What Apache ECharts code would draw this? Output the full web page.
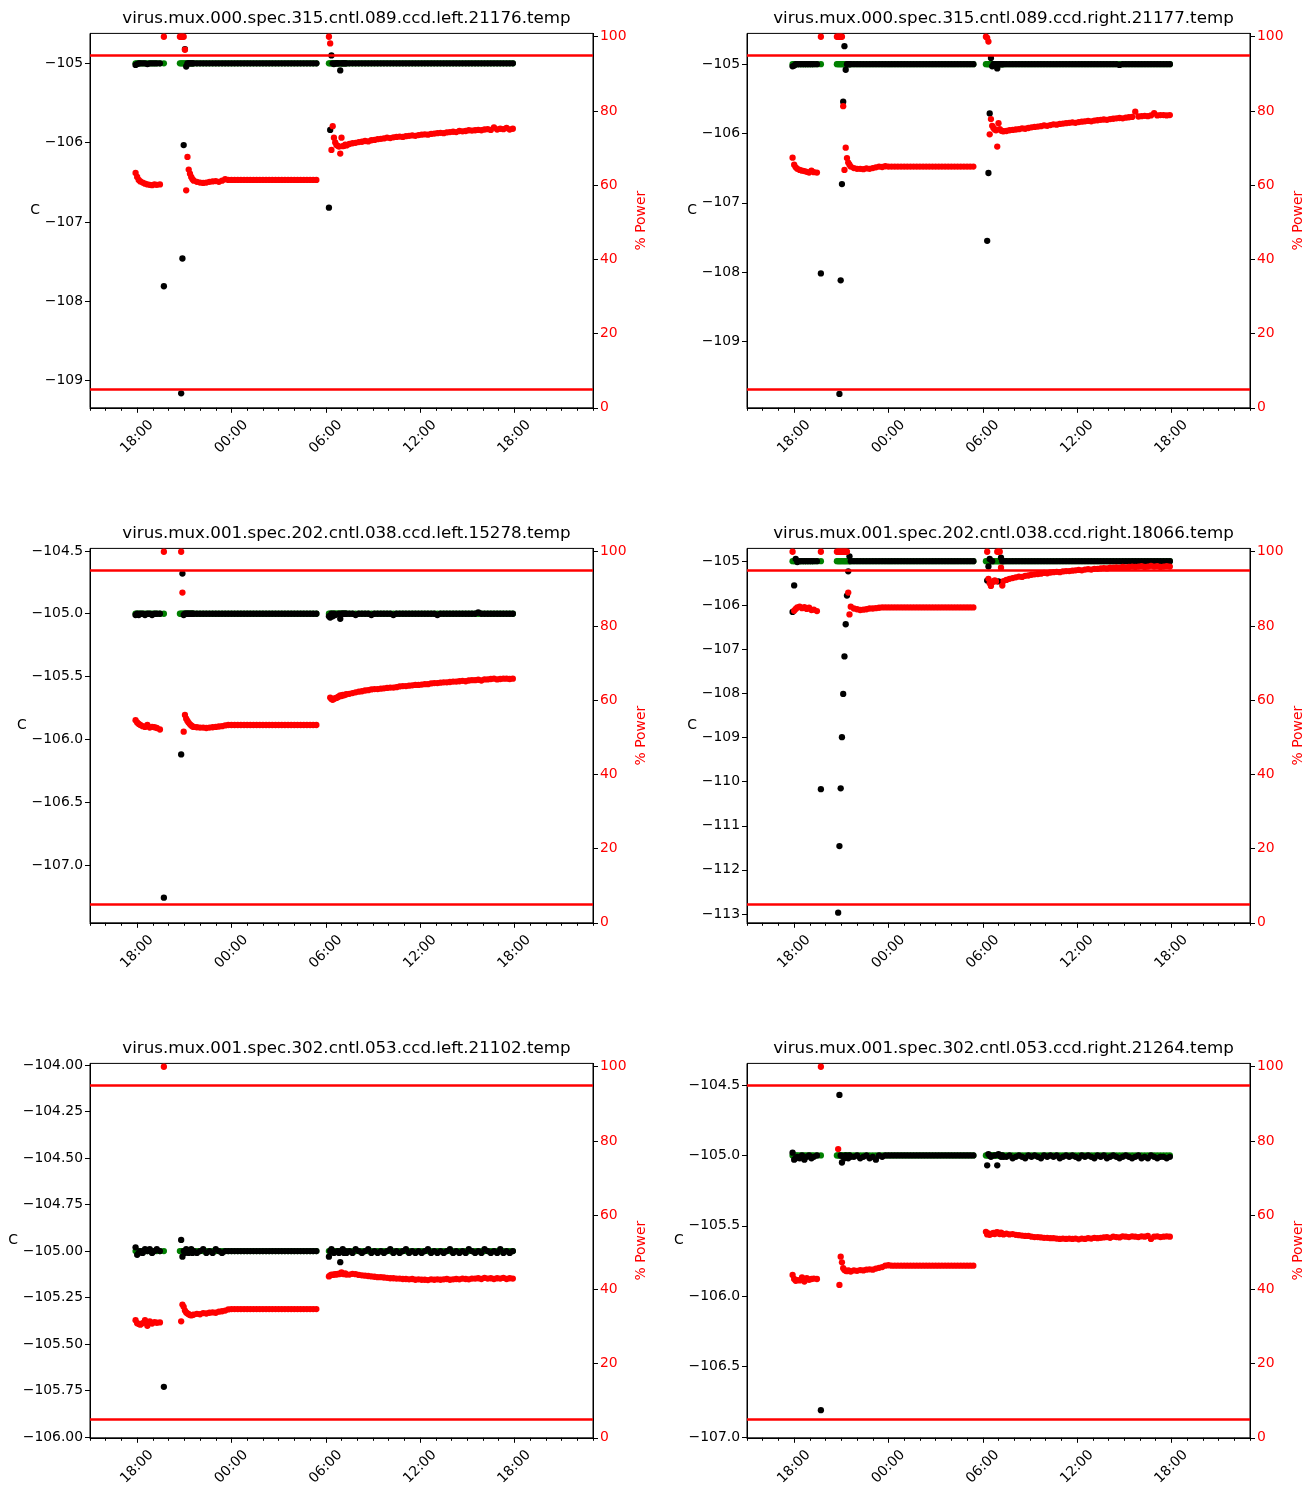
<!DOCTYPE html>
<html><head><meta charset="utf-8">
<script src="https://cdn.jsdelivr.net/npm/echarts@6/dist/echarts.min.js"></script>
<style>html,body{margin:0;padding:0;background:#fff}#c{width:1313px;height:1490px}</style>
</head><body><div id="c"></div><script>
// sample times, hours since 00:00 of day 1 (24 = 00:00 next day)
const hours = [
17.9,18.0,18.1,18.2,18.35,18.5,18.65,18.8,18.95,19.1,19.25,19.45,19.7,
20.72,20.8,20.88,20.96,21.04,21.12,21.2,21.28,21.36,21.44,21.52,21.6,
21.8,22.0,22.2,22.4,22.6,22.8,23.0,23.2,23.4,23.6,
23.8,24.0,24.2,24.4,24.6,24.8,25.0,25.2,25.4,25.6,
25.8,26.0,26.2,26.4,26.6,26.8,27.0,27.2,27.4,27.6,
27.8,28.0,28.2,28.4,28.6,28.8,29.0,29.2,29.4,
30.2,30.28,30.36,30.44,30.52,30.6,30.68,30.76,30.84,30.92,31.0,31.08,31.16,31.24,31.32,
31.5,31.7,31.9,32.1,32.3,32.5,32.7,32.9,33.1,33.3,
33.5,33.7,33.9,34.1,34.3,34.5,34.7,34.9,35.1,35.3,
35.5,35.7,35.9,36.1,36.3,36.5,36.7,36.9,37.1,37.3,
37.5,37.7,37.9,38.1,38.3,38.5,38.7,38.9,39.1,39.3,
39.5,39.7,39.9,40.1,40.3,40.5,40.7,40.9,41.1,41.3,
41.5,41.7,41.9
];

// green: temperature set point
const setpoint = [
-105,-105,-105,-105,-105,-105,-105,-105,-105,-105,-105,-105,-105,
-105,-105,-105,-105,-105,-105,-105,-105,-105,-105,-105,-105,
-105,-105,-105,-105,-105,-105,-105,-105,-105,-105,
-105,-105,-105,-105,-105,-105,-105,-105,-105,-105,
-105,-105,-105,-105,-105,-105,-105,-105,-105,-105,
-105,-105,-105,-105,-105,-105,-105,-105,-105,
-105,-105,-105,-105,-105,-105,-105,-105,-105,-105,-105,-105,-105,-105,-105,
-105,-105,-105,-105,-105,-105,-105,-105,-105,-105,
-105,-105,-105,-105,-105,-105,-105,-105,-105,-105,
-105,-105,-105,-105,-105,-105,-105,-105,-105,-105,
-105,-105,-105,-105,-105,-105,-105,-105,-105,-105,
-105,-105,-105,-105,-105,-105,-105,-105,-105,-105,
-105,-105,-105
];

// ---- panel 1: spec.315 left ----
const temp1 = [
-105.02,-105.01,-105,-105,-105,-105,-105.01,-105,-105,-105,-105,-105,-107.81,
null,-109.16,-107.46,-106.03,-104.82,-105.04,-105,-105,-105,-105,-105,-105,
-105,-105,-105,-105,-105,-105,-105,-105,-105,-105,
-105,-105,-105,-105,-105,-105,-105,-105,-105,-105,
-105,-105,-105,-105,-105,-105,-105,-105,-105,-105,
-105,-105,-105,-105,-105,-105,-105,-105,-105,
-106.82,-105.84,-104.9,-105,-105.01,-105,-105,-105,-105,-105.09,-105,-105,-105,-105,-105,
-105,-105,-105,-105,-105,-105,-105,-105,-105,-105,
-105,-105,-105,-105,-105,-105,-105,-105,-105,-105,
-105,-105,-105,-105,-105,-105,-105,-105,-105,-105,
-105,-105,-105,-105,-105,-105,-105,-105,-105,-105,
-105,-105,-105,-105,-105,-105,-105,-105,-105,-105,
-105,-105,-105
];
const power1 = [
63.3,62.2,61.4,61.0,60.7,60.4,60.2,60.1,60.0,60.2,60.1,60.2,100,
100,100,100,100,96.5,58.6,67.6,64.2,63.1,62.2,61.6,61.2,
60.9,60.7,60.6,60.7,60.9,61.0,61.1,60.9,61.2,61.6,
61.4,61.4,61.4,61.4,61.4,61.4,61.4,61.4,61.4,61.4,
61.4,61.4,61.4,61.4,61.4,61.4,61.4,61.4,61.4,61.4,
61.4,61.4,61.4,61.4,61.4,61.4,61.4,61.4,61.4,
100,98.2,69.5,75.9,72.8,71.5,70.8,70.6,70.4,68.5,72.8,70.5,70.6,70.9,70.7,
71.1,71.3,71.4,71.6,71.7,71.9,71.8,72.1,72.2,72.4,
72.5,72.6,72.8,72.7,72.9,73.0,73.1,73.0,73.2,73.3,
73.4,73.3,73.5,73.6,73.7,73.6,73.8,73.9,74.0,74.1,
74.0,74.2,74.3,74.4,74.3,74.6,74.5,74.6,74.8,74.7,
74.8,74.9,74.8,75.0,75.1,74.9,75.6,75.0,75.2,75.1,
75.4,75.0,75.2
];

// ---- panel 2: spec.315 right ----
const temp2 = [
-105.03,-105.02,-105,-105,-105,-105,-105,-105,-105,-105,-105,-105,-108.02,
null,null,-109.76,-108.12,-106.73,-105.54,-104.74,-105.08,-105,-105,-105,-105,
-105,-105,-105,-105,-105,-105,-105,-105,-105,-105,
-105,-105,-105,-105,-105,-105,-105,-105,-105,-105,
-105,-105,-105,-105,-105,-105,-105,-105,-105,-105,
-105,-105,-105,-105,-105,-105,-105,-105,-105,
null,-107.55,-106.57,-105.71,-104.91,-105.03,-105,-105,-105,-105.06,-105,-105,-105,-105,-105,
-105,-105,-105,-105,-105,-105,-105,-105,-105,-105,
-105,-105,-105,-105,-105,-105,-105,-105,-105,-105,
-105,-105,-105,-105,-105,-105,-105,-105,-105,-105,
-105,-105,-105,-105,-105,-105,-105.01,-105,-105,-105,
-105,-105,-105,-105,-105,-105,-105,-105,-105,-105,
-105,-105,-105
];
const power2 = [
67.4,65.5,64.8,64.4,64.1,63.9,63.8,63.6,63.4,63.9,63.5,63.4,100,
100,100,100,100,100,81.3,64.1,70.1,67.3,66.1,65.5,65.0,
64.6,64.4,64.4,64.3,64.5,64.4,64.6,64.8,65.0,64.9,
65.1,65.0,65.0,65.0,65.0,65.0,65.0,65.0,65.0,65.0,
65.0,65.0,65.0,65.0,65.0,65.0,65.0,65.0,65.0,65.0,
65.0,65.0,65.0,65.0,65.0,65.0,65.0,65.0,65.0,
100,99.7,98.7,73.7,77.8,76.0,75.4,75.0,74.8,70.4,76.7,75.1,74.7,74.6,74.5,
74.6,74.8,74.9,75.0,75.1,75.3,75.2,75.4,75.6,75.7,
75.8,75.9,76.1,76.0,76.2,76.4,76.3,76.5,76.6,76.7,
76.8,76.9,76.8,77.0,77.1,77.2,77.3,77.2,77.4,77.5,
77.6,77.7,77.6,77.8,77.9,78.0,78.1,78.0,78.2,78.3,
78.4,79.8,78.5,78.6,78.7,78.6,78.8,79.4,78.8,78.9,
78.9,78.8,78.9
];

// ---- panel 3: spec.202 left ----
const temp3 = [
-105.01,-105,-105.01,-105,-105,-105.01,-105,-105,-105.01,-105,-105,-105,-107.26,
null,-106.12,-104.68,-105.01,-105,-105,-105,-105,-105,-105,-105,-105,
-105,-105,-105,-105,-105,-105,-105,-105,-105,-105,
-105,-105,-105,-105,-105,-105,-105,-105,-105,-105,
-105,-105,-105,-105,-105,-105,-105,-105,-105,-105,
-105,-105,-105,-105,-105,-105,-105,-105,-105,
-105.02,-105.03,-105,-105.02,-105,-105.01,null,null,-105,-105.04,-105,-105,-105,-105,-105,
-105,-105,-105.01,-105,-105,-105,-105,-105.01,-105,-105,
-105,-105,-105,-105,-105.01,-105,-105,-105,-105,-105,
-105,-105,-105,-105,-105,-105,-105,-105,-105.01,-105,
-105,-105,-105,-105,-105,-105,-105,-105,-105,-105,
-105,-104.99,-105,-105,-105,-105,-105,-105,-105,-105,
-105,-105,-105
];
const power3 = [
54.6,54.0,53.6,53.3,53.0,52.8,53.3,52.6,52.8,52.7,52.5,52.1,100,
null,100,89.0,51.5,56.0,55.0,54.4,53.9,53.5,53.2,52.9,52.8,
52.7,52.6,52.6,52.5,52.6,52.7,52.8,52.9,53.0,53.2,
53.3,53.3,53.3,53.3,53.3,53.3,53.3,53.3,53.3,53.3,
53.3,53.3,53.3,53.3,53.3,53.3,53.3,53.3,53.3,53.3,
53.3,53.3,53.3,53.3,53.3,53.3,53.3,53.3,53.3,
null,60.7,60.3,60.1,60.4,60.5,60.6,60.8,61.0,61.3,61.1,61.4,61.3,61.5,61.6,
61.7,61.9,62.1,62.3,62.4,62.6,62.7,62.9,63.0,63.0,
63.1,63.2,63.3,63.4,63.4,63.5,63.7,63.8,63.8,63.9,
64.0,64.1,64.1,64.2,64.3,64.3,64.5,64.6,64.6,64.7,
64.8,64.8,64.9,65.0,65.0,65.1,65.2,65.1,65.3,65.4,
65.4,65.5,65.3,65.6,65.6,65.7,65.8,65.6,65.7,65.8,
65.8,65.7,65.8
];

// ---- panel 4: spec.202 right ----
const temp4 = [
-106.15,-105.55,-104.95,-105.02,-105,-105,-105,-105,-105,-105,-105,-105,-110.17,
null,-112.97,-111.46,-110.15,-108.99,-108.01,-107.16,-106.43,-105.78,-105.23,-104.89,-105,
-105,-105,-105,-105,-105,-105,-105,-105,-105,-105,
-105,-105,-105,-105,-105,-105,-105,-105,-105,-105,
-105,-105,-105,-105,-105,-105,-105,-105,-105,-105,
-105,-105,-105,-105,-105,-105,-105,-105,-105,
null,-105.44,-105.12,-104.95,null,-105,null,null,null,null,-105.46,null,-104.92,-105,-105,
-105,-105,-105,-105,-105,-105,-105,-105,-105,-105,
-105,-105,-105,-105,-105,-105,-105,-105,-105,-105,
-105,-105,-105,-105,-105,-105,-105,-105,-105,-105,
-105,-105,-105,-105,-105,-105,-105,-105,-105,-105,
-105,-105,-105,-105,-105,-105,-105,-105,-105,-105,
-105,-105,-105
];
const power4 = [
100,84.1,84.6,85.0,85.2,84.8,85.1,84.6,84.9,84.3,84.4,84.0,100,
100,100,100,100,100,100,100,100,100,89.0,83.1,85.2,
84.7,84.5,84.3,84.4,84.5,84.7,84.7,84.8,84.9,85.0,
85.0,85.0,85.0,85.0,85.0,85.0,85.0,85.0,85.0,85.0,
85.0,85.0,85.0,85.0,85.0,85.0,85.0,85.0,85.0,85.0,
85.0,85.0,85.0,85.0,85.0,85.0,85.0,85.0,85.0,
null,100,92.7,91.5,90.8,91.7,92.1,92.3,92.0,100,100,100,95.7,90.9,92.1,
92.4,92.7,92.9,93.1,93.3,93.2,93.5,93.6,93.8,93.9,
94.0,94.1,94.3,94.2,94.4,94.5,94.6,94.5,94.7,94.8,
94.8,94.9,95.0,95.1,95.0,95.2,95.3,95.2,95.4,95.4,
95.5,95.6,95.5,95.7,95.7,95.8,95.7,95.9,95.8,95.9,
96.0,95.9,96.0,96.1,95.9,96.0,96.2,96.0,96.1,95.9,
96.0,96.1,96.0
];

// ---- panel 5: spec.302 left ----
const temp5 = [
-104.98,-105.02,-105.01,-105,-105.01,-104.99,-105,-104.99,-105.01,-105,-104.99,-105,-105.73,
null,-104.94,-105.03,-105,-105.01,-104.99,-105,-105.01,-105,-104.99,-105.01,-105,
-105.01,-105,-104.99,-105.01,-105,-105.01,-104.99,-105,-105.01,-105,
-105,-105,-105,-105,-105,-105,-105,-105,-105,-105,
-105,-105,-105,-105,-105,-105,-105,-105,-105,-105,
-105,-105,-105,-105,-105,-105,-105,-105,-105,
-105.03,-105,-104.99,-105,-105.01,null,null,-105,-105.01,-105.06,-105,-104.99,-105.01,-105,-105.01,
-105,-105.01,-104.99,-105,-105.01,-105,-104.99,-105.01,-105,-105.01,
-105,-105.01,-105,-104.99,-105.01,-105,-105.01,-105,-104.99,-105.01,
-105,-105.01,-105,-105.01,-105,-104.99,-105.01,-105,-105.01,-105,
-105.01,-105,-104.99,-105.01,-105,-105.01,-105,-105.01,-104.99,-105,
-105.01,-105,-105.01,-104.99,-105,-105.01,-105,-105.01,-104.99,-105.01,
-105,-105.01,-105
];
const power5 = [
31.7,30.9,30.7,30.5,30.9,31.7,30.2,31.4,30.8,31.2,31.0,31.1,100,
null,31.4,35.9,35.3,34.3,33.8,33.5,33.3,33.1,33.0,33.1,33.2,
33.4,33.3,33.6,33.5,33.7,33.8,33.7,34.0,34.1,34.3,
34.6,34.7,34.7,34.7,34.7,34.7,34.7,34.7,34.7,34.7,
34.7,34.7,34.7,34.7,34.7,34.7,34.7,34.7,34.7,34.7,
34.7,34.7,34.7,34.7,34.7,34.7,34.7,34.7,34.7,
43.5,43.8,44.0,43.9,44.0,44.1,44.0,44.2,44.1,44.3,44.6,44.2,44.1,44.3,44.0,
44.0,44.2,44.1,43.9,43.8,43.7,43.6,43.5,43.4,43.3,
43.3,43.2,43.1,43.0,43.0,42.9,42.9,42.8,42.8,42.7,
42.8,42.6,42.7,42.6,42.6,42.5,42.7,42.6,42.7,42.6,
42.7,42.8,42.6,42.7,42.8,42.7,42.9,42.8,42.7,42.9,
42.9,43.0,42.8,43.1,42.9,43.0,42.8,43.0,42.9,43.1,
42.8,43.0,42.9
];

// ---- panel 6: spec.302 right ----
const temp6 = [
-104.98,-105.03,-105.02,-105.01,-105.02,-105,-105.03,-105.01,-105,-105.02,-105.01,-105,-106.81,
null,null,-104.57,-105,-105.05,-105.01,-105.02,-105,-105.01,-105.02,-105,-105.01,
-105.01,-105,-105.02,-105.01,-105,-105.02,-105.01,-105.03,-105,-105.01,
-105,-105,-105,-105,-105,-105,-105,-105,-105,-105,
-105,-105,-105,-105,-105,-105,-105,-105,-105,-105,
-105,-105,-105,-105,-105,-105,-105,-105,-105,
null,-105.07,-104.99,-105,-105.01,null,null,-105,null,-105.07,-104.99,-105,-105.01,-105,-105.01,
-105.01,-105,-105.02,-105.01,-105,-105.01,-105.02,-105,-105.01,-105,
-105.01,-105.02,-105,-105.01,-105,-105.01,-105,-105.02,-105.01,-105,
-105.01,-105,-105.01,-105.02,-105,-105.01,-105,-105.01,-105.02,-105,
-105.01,-105,-105.02,-105.01,-105,-105.01,-105.02,-105.01,-105,-105.01,
-105.02,-105.01,-105,-105.02,-105.01,-105.02,-105,-105.01,-105.02,-105.01,
-105.01,-105.02,-105.01
];
const power6 = [
43.9,42.8,42.3,42.5,42.4,43.2,42.1,43.0,42.6,42.8,42.9,42.8,100,
null,77.8,41.2,48.8,47.3,45.7,45.2,45.0,44.9,45.1,45.0,44.8,
45.1,45.0,45.2,45.1,45.3,45.4,45.3,45.6,45.8,46.0,
46.4,46.5,46.4,46.4,46.4,46.4,46.4,46.4,46.4,46.4,
46.4,46.4,46.4,46.4,46.4,46.4,46.4,46.4,46.4,46.4,
46.4,46.4,46.4,46.4,46.4,46.4,46.4,46.4,46.4,
55.5,54.8,55.1,54.7,54.9,55.0,55.2,54.9,55.3,55.4,55.1,54.9,55.3,55.0,54.8,
55.0,54.8,54.9,54.7,54.6,54.5,54.4,54.4,54.2,54.1,
54.1,54.0,53.9,53.9,53.8,53.8,53.7,53.6,53.7,53.6,
53.7,53.6,53.7,53.5,53.7,53.6,53.8,53.7,53.9,53.8,
53.9,54.0,54.1,53.9,54.2,54.1,54.0,54.3,54.2,54.1,
54.3,54.2,54.1,54.3,54.2,54.4,53.6,54.2,54.3,54.1,
54.2,54.3,54.2
];

const titles = [
'virus.mux.000.spec.315.cntl.089.ccd.left.21176.temp',
'virus.mux.000.spec.315.cntl.089.ccd.right.21177.temp',
'virus.mux.001.spec.202.cntl.038.ccd.left.15278.temp',
'virus.mux.001.spec.202.cntl.038.ccd.right.18066.temp',
'virus.mux.001.spec.302.cntl.053.ccd.left.21102.temp',
'virus.mux.001.spec.302.cntl.053.ccd.right.21264.temp'
];
const temps = [temp1, temp2, temp3, temp4, temp5, temp6];
const powers = [power1, power2, power3, power4, power5, power6];
const tempRanges = [
[-109.342, -104.623], [-109.96, -104.555], [-107.46, -104.48],
[-113.2, -104.71], [-106.004, -103.991], [-107.006, -104.346]
];
const tempTicks = [
[-109, -108, -107, -106, -105],
[-109, -108, -107, -106, -105],
[-107, -106.5, -106, -105.5, -105, -104.5],
[-113, -112, -111, -110, -109, -108, -107, -106, -105],
[-106, -105.75, -105.5, -105.25, -105, -104.75, -104.5, -104.25, -104],
[-107, -106.5, -106, -105.5, -105, -104.5]
];
const tempDecimals = [0, 0, 1, 0, 2, 1];
const majorHours = [18, 24, 30, 36, 42];
const hourRange = [15, 47];
const powerRange = [0, 100.9];
const powerTicks = [0, 20, 40, 60, 80, 100];
const powerLimits = [5, 95];

// layout (pixels)
const gridLefts = [90, 747, 90, 747, 90, 747];
const gridTops = [33.4, 33.4, 548.4, 548.4, 1063.4, 1063.4];
const gridW = 503, gridH = 374.4;
const cNameGaps = [46, 50, 63, 50, 68, 63];

const FONT = 'DejaVu Sans';
const FS = 13.9;
const fmtTemp = (v, d) => (v < 0 ? '\u2212' : '') + Math.abs(v).toFixed(d);
const fmtHour = h => String(((h % 24) + 24) % 24).padStart(2, '0') + ':00';

const grid = [], xAxis = [], yAxis = [], series = [], title = [];
for (let i = 0; i < 6; i++) {
  grid.push({ left: gridLefts[i], top: gridTops[i], width: gridW, height: gridH,
    show: true, borderColor: '#000', borderWidth: 1, backgroundColor: 'transparent' });
  title.push({ text: titles[i], left: gridLefts[i] + gridW / 2, top: gridTops[i] - 28.5, textAlign: 'center',
    textStyle: { fontFamily: FONT, fontSize: 16.7, fontWeight: 'normal', color: '#000' } });
  // minor (hourly) ticks axis, carries the data
  xAxis.push({ gridIndex: i, type: 'value', position: 'bottom', min: hourRange[0], max: hourRange[1], interval: 1,
    axisLine: { show: true, onZero: false, lineStyle: { color: '#000', width: 1 } },
    axisTick: { show: true, length: 3, lineStyle: { color: '#000' } },
    axisLabel: { show: false }, splitLine: { show: false } });
  // major ticks + labels
  xAxis.push({ gridIndex: i, type: 'value', position: 'bottom', min: hourRange[0], max: hourRange[1],
    axisLine: { show: false, onZero: false },
    axisTick: { show: true, length: 5, customValues: majorHours, lineStyle: { color: '#000' } },
    axisLabel: { show: true, customValues: majorHours, formatter: fmtHour, rotate: 45,
      align: 'center', verticalAlign: 'middle', margin: 29,
      fontFamily: FONT, fontSize: FS, color: '#000' },
    splitLine: { show: false } });
  yAxis.push({ gridIndex: i, type: 'value', position: 'left', min: tempRanges[i][0], max: tempRanges[i][1],
    axisLine: { show: true, onZero: false, lineStyle: { color: '#000' } },
    axisTick: { show: true, length: 5, customValues: tempTicks[i], lineStyle: { color: '#000' } },
    axisLabel: { show: true, customValues: tempTicks[i], formatter: v => fmtTemp(v, tempDecimals[i]),
      margin: 7, fontFamily: FONT, fontSize: FS, color: '#000' },
    splitLine: { show: false },
    name: 'C', nameLocation: 'middle', nameRotate: 0, nameGap: cNameGaps[i],
    nameTextStyle: { fontFamily: FONT, fontSize: FS, color: '#000', verticalAlign: 'bottom', lineHeight: 20 } });
  yAxis.push({ gridIndex: i, type: 'value', position: 'right', min: powerRange[0], max: powerRange[1],
    axisLine: { show: true, onZero: false, lineStyle: { color: '#000' } },
    axisTick: { show: true, length: 5, customValues: powerTicks, lineStyle: { color: '#000' } },
    axisLabel: { show: true, customValues: powerTicks, margin: 7, fontFamily: FONT, fontSize: FS, color: 'red' },
    splitLine: { show: false },
    name: '% Power', nameLocation: 'middle', nameRotate: 90, nameGap: 41,
    nameTextStyle: { fontFamily: FONT, fontSize: FS, color: 'red' } });

  const pts = arr => hours.map((h, k) => [h, arr[k]]).filter(p => p[1] !== null && p[1] !== undefined);
  series.push({ type: 'scatter', xAxisIndex: 2 * i, yAxisIndex: 2 * i, data: pts(setpoint),
    symbolSize: 6.3, itemStyle: { color: '#008000', opacity: 1 }, z: 2, silent: true });
  series.push({ type: 'scatter', xAxisIndex: 2 * i, yAxisIndex: 2 * i, data: pts(temps[i]),
    symbolSize: 6.3, itemStyle: { color: '#000000', opacity: 1 }, z: 3, silent: true });
  series.push({ type: 'scatter', xAxisIndex: 2 * i, yAxisIndex: 2 * i + 1, data: pts(powers[i]),
    symbolSize: 6.3, itemStyle: { color: '#ff0000', opacity: 1 }, z: 4, silent: true,
    markLine: { silent: true, symbol: ['none', 'none'], label: { show: false },
      lineStyle: { color: '#ff0000', width: 2.6, type: 'solid' },
      emphasis: { disabled: true },
      data: powerLimits.map(v => ({ yAxis: v })) } });
}

const chart = echarts.init(document.getElementById('c'), null, { renderer: 'canvas' });
chart.setOption({
  animation: false,
  backgroundColor: '#fff',
  textStyle: { fontFamily: FONT },
  title, grid, xAxis, yAxis, series
});
</script></body></html>
